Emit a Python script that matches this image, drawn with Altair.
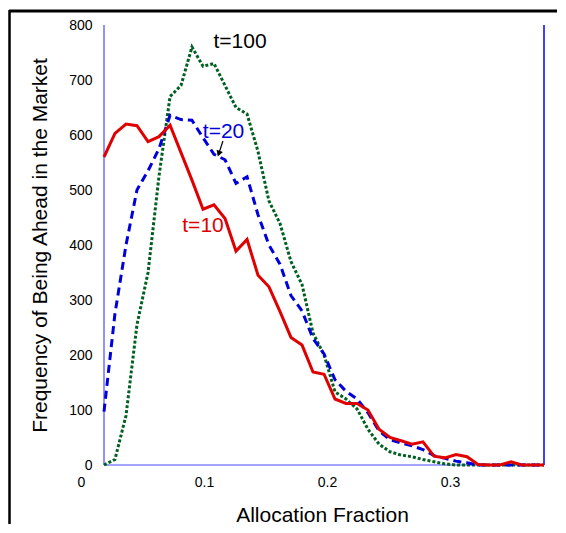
import altair as alt
import pandas as pd

# Bin positions (allocation fraction)
x_vals = [0.0187, 0.0276, 0.0366, 0.0455, 0.0545, 0.0634, 0.0724, 0.0813, 0.0902, 0.0992,
          0.1081, 0.1171, 0.1260, 0.1350, 0.1439, 0.1528, 0.1618, 0.1707, 0.1797, 0.1886,
          0.1976, 0.2065, 0.2154, 0.2244, 0.2333, 0.2423, 0.2512, 0.2602, 0.2691, 0.2780,
          0.2870, 0.2959, 0.3049, 0.3138, 0.3228, 0.3317, 0.3406, 0.3496, 0.3585, 0.3675,
          0.3764]

t10 = [560, 603, 620, 617, 588, 597, 618, 568, 518, 465,
       473, 448, 389, 410, 345, 324, 279, 232, 218, 169,
       165, 120, 112, 112, 100, 65, 50, 44, 38, 42,
       16, 13, 19, 15, 1, 0, 0, 6, 0, 0,
       0]

t20 = [97, 275, 400, 500, 535, 575, 636, 628, 627, 595,
       565, 555, 512, 524, 455, 400, 365, 308, 280, 230,
       202, 155, 134, 120, 95, 62, 46, 40, 35, 28,
       17, 12, 7, 4, 0, 0, 0, 0, 0, 0,
       0]

t100 = [0, 10, 90, 255, 350, 525, 670, 690, 760, 725,
        730, 690, 650, 638, 570, 480, 439, 370, 328, 240,
        200, 133, 120, 102, 65, 38, 24, 18, 15, 10,
        6, 2, 0, 0, 0, 0, 0, 0, 0, 0,
        0]

x_ticks = [0, 0.1, 0.2, 0.3]
y_ticks = [0, 100, 200, 300, 400, 500, 600, 700, 800]

label_text = ["t=100", "t=20", "t=10"]
label_x = [0.1293, 0.1159, 0.0992]
label_y = [758, 595, 424]
label_color = ["#000000", "#0000dd", "#e00000"]

FONT = "Liberation Sans"
X_DOMAIN = [0, 0.3764]
Y_DOMAIN = [0, 800]

xs = alt.Scale(domain=X_DOMAIN, nice=False, zero=False)
ys = alt.Scale(domain=Y_DOMAIN, nice=False)

x_axis = alt.Axis(values=x_ticks, format="~g", domain=False, ticks=False, grid=False,
                  labelFlush=False, labelOverlap=False, labelPadding=10,
                  labelFont=FONT, labelFontSize=14, labelColor="#000000",
                  title="Allocation Fraction", titleFont=FONT, titleFontSize=21,
                  titleFontWeight="normal", titleColor="#000000",
                  titleX=241, titleY=50, titleBaseline="middle", titleAnchor="start",
                  titleAlign="center")
y_axis = alt.Axis(values=y_ticks, domain=False, ticks=False, grid=False, offset=-23,
                  labelPadding=12, labelFont=FONT, labelFontSize=14, labelColor="#000000",
                  title="Frequency of Being Ahead in the Market", titleFont=FONT,
                  titleFontSize=21, titleFontWeight="normal", titleColor="#000000",
                  titleX=-64, titleY=220, titleAngle=270, titleBaseline="middle",
                  titleAlign="center", titleAnchor="start")

def series_df(vals):
    return pd.DataFrame({"x": x_vals, "y": vals})

base_enc = dict(x=alt.X("x:Q", scale=xs, axis=x_axis), y=alt.Y("y:Q", scale=ys, axis=y_axis))

green = alt.Chart(series_df(t100)).mark_line(color="#006020", strokeWidth=3, strokeDash=[3, 2]).encode(**base_enc)
blue = alt.Chart(series_df(t20)).mark_line(color="#0000dd", strokeWidth=3, strokeDash=[8, 5]).encode(**base_enc)
red = alt.Chart(series_df(t10)).mark_line(color="#e00000", strokeWidth=3).encode(**base_enc)

# plot-area border (blue)
left_line = alt.Chart().mark_rule(color="#4a4aff", strokeWidth=1.2).encode(
    x=alt.datum(x_vals[0], scale=xs), y=alt.datum(Y_DOMAIN[0], scale=ys), y2=alt.datum(Y_DOMAIN[1]))
right_line = alt.Chart().mark_rule(color="#0000ff", strokeWidth=1.5).encode(
    x=alt.datum(x_vals[-1], scale=xs), y=alt.datum(Y_DOMAIN[0], scale=ys), y2=alt.datum(Y_DOMAIN[1]))
bottom_line = alt.Chart().mark_rule(color="#4a4aff", strokeWidth=1.2).encode(
    x=alt.datum(x_vals[0], scale=xs), x2=alt.datum(x_vals[-1]), y=alt.datum(0, scale=ys))

# outer frame (black, top and left)
frame_top = alt.Chart().mark_rule(color="#000000", strokeWidth=3).encode(
    x=alt.value(-72), x2=alt.value(480), y=alt.value(-14))
frame_left = alt.Chart().mark_rule(color="#000000", strokeWidth=2.5).encode(
    x=alt.value(-71.5), y=alt.value(-15), y2=alt.value(500))

labels_df = pd.DataFrame({"text": label_text, "x": label_x, "y": label_y, "c": label_color})
labels = alt.Chart(labels_df).mark_text(font=FONT, fontSize=21, align="center",
                                        baseline="alphabetic").encode(
    x=alt.X("x:Q", scale=xs), y=alt.Y("y:Q", scale=ys), text="text:N",
    color=alt.Color("c:N", scale=None))

# arrow from t=20 label to the blue curve
arrow_df = pd.DataFrame({"x": [0.1154], "y": [589], "x2": [0.1120], "y2": [566]})
arrow_line = alt.Chart(arrow_df).mark_rule(color="#000000", strokeWidth=1.2).encode(
    x=alt.X("x:Q", scale=xs), y=alt.Y("y:Q", scale=ys), x2="x2:Q", y2="y2:Q")
arrow_head = alt.Chart(arrow_df).mark_point(shape="triangle-down", filled=True, color="#000000",
                                            size=45, angle=20, opacity=1).encode(
    x=alt.X("x2:Q", scale=xs), y=alt.Y("y2:Q", scale=ys))

chart = alt.layer(frame_top, frame_left, left_line, bottom_line, right_line,
                  green, blue, red, labels, arrow_line, arrow_head).properties(
    width=463, height=440,
    padding={"left": 73, "top": 17, "right": 13, "bottom": 59},
    autosize=alt.AutoSizeParams(type="none"),
    background="#ffffff",
).configure_view(stroke=None)

chart.save("out.html", embed_options={"renderer": "svg", "actions": False})
